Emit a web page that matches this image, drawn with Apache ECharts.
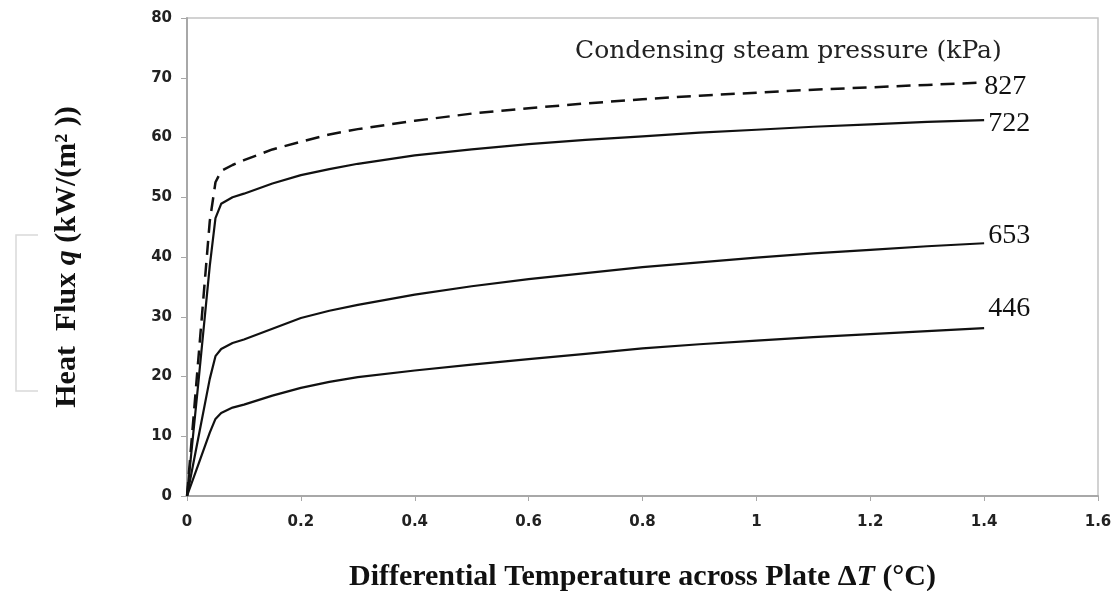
<!DOCTYPE html>
<html>
<head>
    <meta charset="utf-8">
    <title>Heat flux chart</title>
    <script src="https://cdn.jsdelivr.net/npm/echarts@6/dist/echarts.min.js"></script>
    <style>
        html, body { margin: 0; padding: 0; background: #fff; }
        #main { width: 1114px; height: 591px; }
    </style>
</head>
<body>
    <div id="main"></div>
    <script>
        // differential temperature (°C)
        var deltaT = [0, 0.02, 0.04, 0.05, 0.06, 0.08, 0.1, 0.15, 0.2, 0.25, 0.3, 0.4, 0.5, 0.6, 0.7, 0.8, 0.9, 1.0, 1.1, 1.2, 1.3, 1.4];
        // heat flux kW/m2 per steam pressure
        var q827 = [0, 23, 46, 52.5, 54.4, 55.4, 56.2, 58.0, 59.3, 60.5, 61.4, 62.8, 64.0, 64.9, 65.7, 66.4, 67.0, 67.5, 68.0, 68.4, 68.8, 69.2];
        var q722 = [0, 19, 38.5, 46.5, 48.9, 50.0, 50.6, 52.3, 53.7, 54.7, 55.6, 57.0, 58.0, 58.9, 59.6, 60.2, 60.8, 61.3, 61.8, 62.2, 62.6, 62.9];
        var q653 = [0, 9.8, 19.6, 23.4, 24.6, 25.6, 26.2, 28.0, 29.8, 31.0, 32.0, 33.7, 35.1, 36.3, 37.3, 38.3, 39.1, 39.9, 40.6, 41.2, 41.8, 42.3];
        var q446 = [0, 5.3, 10.6, 12.9, 13.9, 14.8, 15.3, 16.8, 18.1, 19.1, 19.9, 21.0, 22.0, 22.9, 23.8, 24.7, 25.4, 26.0, 26.6, 27.1, 27.6, 28.1];
        var pressures = ['827', '722', '653', '446'];

        function pairs(ys) {
            return deltaT.map(function (x, i) { return [x, ys[i]]; });
        }

        var serif = '"Liberation Serif", "Times New Roman", serif';
        var axisColor = '#a8a8a8';

        function curve(name, ys, dashed, offset) {
            return {
                name: name,
                type: 'line',
                data: pairs(ys),
                showSymbol: false,
                smooth: false,
                lineStyle: { color: '#111', width: dashed ? 2.5 : 2.2, type: dashed ? [14, 8] : 'solid', join: 'round' },
                endLabel: {
                    show: true,
                    formatter: '{a}',
                    distance: 2,
                    offset: offset,
                    color: '#111',
                    fontFamily: serif,
                    fontSize: 28
                }
            };
        }

        var myChart = echarts.init(document.getElementById('main'));
        var option = {
            animation: false,
            backgroundColor: '#fff',
            grid: {
                left: 187, right: 16, top: 18, bottom: 95,
                containLabel: false,
                outerBoundsMode: 'none',
                show: true, borderColor: '#c4c4c4', borderWidth: 1.5
            },
            graphic: [
                {
                    type: 'polyline',
                    shape: { points: [[38, 235], [16, 235], [16, 391], [38, 391]] },
                    style: { stroke: '#d9d9d9', lineWidth: 1.5, fill: null }
                },
                {
                    type: 'text',
                    left: 575, top: 39,
                    style: {
                        text: 'Condensing steam pressure (kPa)',
                        font: '25px "DejaVu Serif", serif',
                        fill: '#222'
                    }
                }
            ],
            xAxis: {
                type: 'value',
                min: 0, max: 1.6, interval: 0.2,
                name: 'Differential Temperature across Plate Δ{t|T} (°C)',
                nameLocation: 'middle',
                nameGap: 66,
                nameTextStyle: {
                    fontFamily: serif, fontWeight: 'bold', fontSize: 30, color: '#111',
                    rich: { t: { fontFamily: serif, fontWeight: 'bold', fontStyle: 'italic', fontSize: 30, color: '#111' } }
                },
                axisLine: { lineStyle: { color: axisColor, width: 2 } },
                axisTick: { show: true, length: 5, lineStyle: { color: axisColor } },
                axisLabel: {
                    margin: 19,
                    fontFamily: '"DejaVu Sans", sans-serif', fontWeight: 'bold', fontSize: 15, color: '#222'
                },
                splitLine: { show: false }
            },
            yAxis: {
                type: 'value',
                min: 0, max: 80, interval: 10,
                name: 'Heat  Flux {q|q} (kW/(m² ))',
                nameLocation: 'middle',
                nameRotate: 90,
                nameGap: 105,
                nameTextStyle: {
                    fontFamily: serif, fontWeight: 'bold', fontSize: 30, color: '#111',
                    rich: { q: { fontFamily: serif, fontWeight: 'bold', fontStyle: 'italic', fontSize: 30, color: '#111' } }
                },
                axisLine: { show: true, lineStyle: { color: axisColor, width: 2 } },
                axisTick: { show: true, length: 6, lineStyle: { color: axisColor } },
                axisLabel: {
                    margin: 15,
                    fontFamily: '"DejaVu Sans", sans-serif', fontWeight: 'bold', fontSize: 15, color: '#222'
                },
                splitLine: { show: false }
            },
            series: [
                curve(pressures[0], q827, true, [-2, 4]),
                curve(pressures[1], q722, false, [2, 3]),
                curve(pressures[2], q653, false, [2, -8]),
                curve(pressures[3], q446, false, [2, -19])
            ]
        };
        myChart.setOption(option);
    </script>
</body>
</html>
